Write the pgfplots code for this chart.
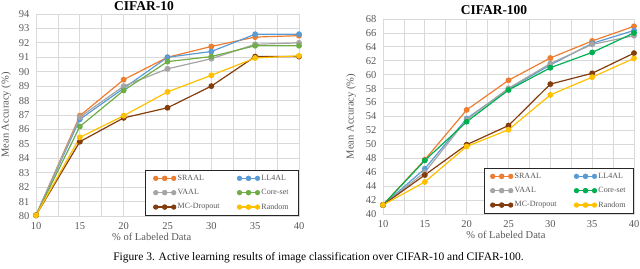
\documentclass[border=0pt]{standalone}
\usepackage{pgfplots}
\pgfplotsset{compat=1.18}
\usepackage{fontspec}
\setmainfont{Liberation Serif}
\definecolor{cOr}{HTML}{ED7D31}
\definecolor{cBl}{HTML}{5B9BD5}
\definecolor{cGy}{HTML}{A5A5A5}
\definecolor{cGn}{HTML}{70AD47}
\definecolor{cGn2}{HTML}{00B050}
\definecolor{cBr}{HTML}{843C0C}
\definecolor{cYe}{HTML}{FFC000}
\definecolor{cTx}{HTML}{595959}
\definecolor{cGrid}{HTML}{D9D9D9}
\pgfplotsset{
  myax/.style={
    scale only axis, anchor=south west,
    xmin=10, xmax=40,
    xtick={10,15,...,40},
    minor xtick={12.5,17.5,...,37.5},
    grid=both,
    major grid style={cGrid, line width=0.8pt},
    minor grid style={cGrid, line width=0.8pt},
    axis line style={cGrid, line width=0.8pt},
    tick style={draw=none},
    ticklabel style={font=\fontsize{10.5}{12}\selectfont, text=cTx},
    /pgf/number format/assume math mode=true,
    xticklabel style={yshift=-3pt},
    yticklabel style={xshift=-3pt},
    label style={font=\fontsize{10.5}{12}\selectfont, text=cTx},
    xlabel={\% of Labeled Data},
    ylabel={Mean Accuracy (\%)},
    every axis plot/.append style={line width=1.2pt, mark=*, mark size=2.3pt, mark options={solid}},
    legend style={at={(1,0)}, anchor=south east, draw=black!85, line width=0.8pt,
      font=\fontsize{8}{9}\selectfont, text=cTx, fill=white,
      inner xsep=8pt, inner ysep=3pt, row sep=3.5pt,
      /tikz/every even column/.append style={column sep=16pt}},
    legend columns=2,
    legend cell align=left,
    legend image code/.code={\draw[##1, mark size=2pt] plot coordinates {(0pt,0pt) (9pt,0pt) (18pt,0pt)};
      \draw[##1, mark size=2pt, only marks] plot coordinates {(9pt,0pt)};},
  }
}
\begin{document}
\begin{tikzpicture}[x=1pt,y=1pt]
\path[use as bounding box] (0,0) rectangle (640,268);
\begin{axis}[myax, at={(36pt,52pt)}, width=263pt, height=202pt,
  ymin=80, ymax=94, ytick={80,81,...,94},
  ylabel style={at={(axis description cs:-0.114,0.5)}, anchor=center},
  xlabel style={at={(axis description cs:0.44,0)}, yshift=-14pt},
  legend style={inner xsep=8pt}]
\addplot[color=cOr] coordinates {(10,80.05)(15,86.95)(20,89.45)(25,91.0)(30,91.75)(35,92.4)(40,92.5)};
\addplot[color=cBl] coordinates {(10,80.05)(15,86.7)(20,88.85)(25,91.0)(30,91.4)(35,92.6)(40,92.6)};
\addplot[color=cGy] coordinates {(10,80.05)(15,86.85)(20,89.0)(25,90.2)(30,90.9)(35,91.9)(40,92.0)};
\addplot[color=cGn] coordinates {(10,80.05)(15,86.2)(20,88.7)(25,90.7)(30,91.05)(35,91.8)(40,91.8)};
\addplot[color=cBr] coordinates {(10,80.05)(15,85.15)(20,86.8)(25,87.5)(30,89.0)(35,91.05)(40,91.05)};
\addplot[color=cYe] coordinates {(10,80.05)(15,85.45)(20,86.95)(25,88.6)(30,89.75)(35,90.95)(40,91.1)};
\legend{SRAAL,LL4AL,VAAL,Core-set,MC-Dropout,Random}
\end{axis}
\begin{axis}[myax, at={(383pt,54pt)}, width=251pt, height=195pt,
  ymin=40, ymax=68, ytick={40,42,...,68},
  ylabel style={at={(axis description cs:-0.127,0.5)}, anchor=center},
  xlabel style={at={(axis description cs:0.49,0)}, yshift=-14pt},
  legend style={inner xsep=6pt}]
\addplot[color=cOr] coordinates {(10,41.3)(15,47.8)(20,54.95)(25,59.2)(30,62.4)(35,64.85)(40,66.95)};
\addplot[color=cBl] coordinates {(10,41.3)(15,46.5)(20,53.7)(25,57.95)(30,61.4)(35,64.5)(40,66.35)};
\addplot[color=cGy] coordinates {(10,41.3)(15,46.0)(20,53.55)(25,58.05)(30,61.6)(35,64.35)(40,65.6)};
\addplot[color=cGn2] coordinates {(10,41.3)(15,47.7)(20,53.25)(25,57.8)(30,61.0)(35,63.2)(40,66.0)};
\addplot[color=cBr] coordinates {(10,41.3)(15,45.6)(20,49.95)(25,52.7)(30,58.65)(35,60.2)(40,63.1)};
\addplot[color=cYe] coordinates {(10,41.3)(15,44.6)(20,49.7)(25,52.1)(30,57.1)(35,59.65)(40,62.35)};
\legend{SRAAL,LL4AL,VAAL,Core-set,MC-Dropout,Random}
\end{axis}
\node[font=\bfseries\fontsize{13.5}{15}\selectfont] at (144,261.5) {CIFAR-10};
\node[font=\bfseries\fontsize{13.5}{15}\selectfont] at (494,257.5) {CIFAR-100};
\node[font=\fontsize{11.5}{13}\selectfont] at (318.5,10) {Figure 3. Active learning results of image classification over CIFAR-10 and CIFAR-100.};
\end{tikzpicture}
\end{document}
